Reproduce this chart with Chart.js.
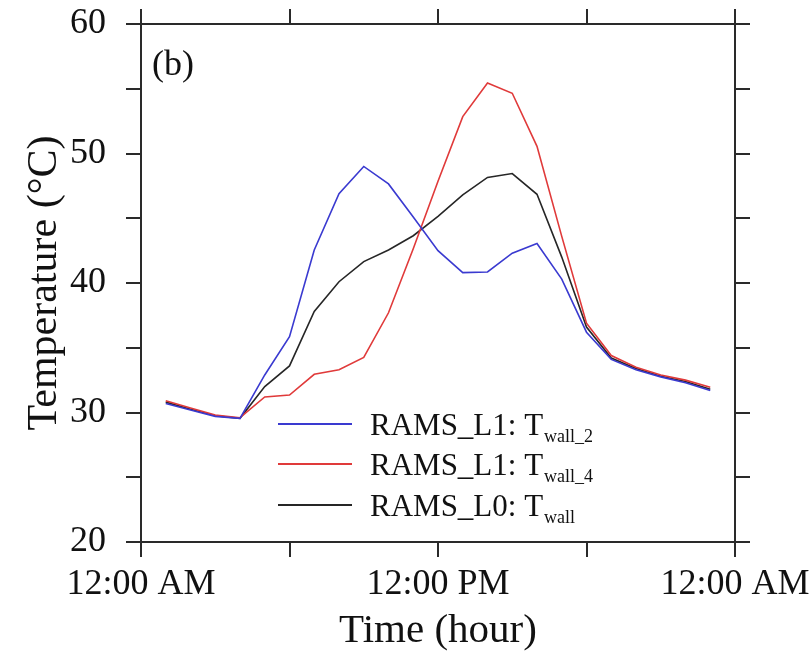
<!DOCTYPE html>
<html>
<head>
<meta charset="utf-8">
<script src="https://cdn.jsdelivr.net/npm/chart.js@4.4.0/dist/chart.umd.min.js"></script>
<style>
  html, body { margin: 0; padding: 0; background: #fff; }
  #wrap { width: 812px; height: 659px; position: relative; }
</style>
</head>
<body>
<div id="wrap"><canvas id="c" width="812" height="659"></canvas></div>
<script>
// ---- data ----
const hours = [1,2,3,4,5,6,7,8,9,10,11,12,13,14,15,16,17,18,19,20,21,22,23];
const seriesLabels = ['RAMS_L1: T|wall_2', 'RAMS_L1: T|wall_4', 'RAMS_L0: T|wall'];
const twall2 = [30.7,30.2,29.7,29.55,32.9,35.85,42.55,46.9,49.0,47.65,45.1,42.5,40.8,40.85,42.3,43.05,40.3,36.2,34.1,33.3,32.75,32.3,31.7];
const twall4 = [30.9,30.35,29.8,29.6,31.2,31.35,32.95,33.3,34.25,37.7,42.65,47.85,52.85,55.45,54.65,50.55,43.6,36.9,34.4,33.5,32.9,32.5,31.95];
const twall0 = [30.8,30.25,29.75,29.55,32.0,33.6,37.8,40.1,41.65,42.55,43.65,45.15,46.8,48.15,48.45,46.85,42.0,36.6,34.2,33.4,32.8,32.4,31.8];
const xTickHours = [0,6,12,18,24];
const xTickLabels = ['12:00 AM','','12:00 PM','','12:00 AM'];
const yTickValues = [20,25,30,35,40,45,50,55,60];
const yTickLabels = ['20','','30','','40','','50','','60'];
const colors = ['#3a3ad0', '#e03a3a', '#262626'];

const FONT = '"Liberation Serif", "DejaVu Serif", serif';
const AX = '#2a2a2a';

function pts(vals) { return hours.map((h, i) => ({ x: h, y: vals[i] })); }

const datasets = [twall2, twall4, twall0].map((v, i) => ({
  label: seriesLabels[i],
  data: pts(v),
  borderColor: colors[i],
  backgroundColor: colors[i],
  borderWidth: 1.6,
  pointRadius: 0,
  tension: 0,
  fill: false
}));

const fixW = w => (s) => { s.width = w; s.paddingTop = 0; s.paddingBottom = 0; };
const fixH = h => (s) => { s.height = h; s.paddingLeft = 0; s.paddingRight = 0; };

const gridCommon = {
  drawOnChartArea: false,
  drawTicks: true,
  tickLength: 15,
  lineWidth: 2,
  color: AX,
  tickColor: AX
};
const borderCommon = { display: true, color: AX, width: 2 };

const legendPlugin = {
  id: 'customLegend',
  afterDraw(chart) {
    const ctx = chart.ctx;
    const a = chart.chartArea;
    ctx.save();
    // panel label
    ctx.fillStyle = '#111';
    ctx.font = '36px ' + FONT;
    ctx.textBaseline = 'alphabetic';
    ctx.textAlign = 'left';
    ctx.fillText('(b)', a.left + 11, a.top + 51);
    // legend
    const rows = [a.top + 400, a.top + 440, a.top + 481];
    const x0 = a.left + 137, x1 = a.left + 211, tx = a.left + 229;
    chart.data.datasets.forEach((ds, i) => {
      const y = rows[i];
      ctx.strokeStyle = ds.borderColor;
      ctx.lineWidth = 1.8;
      ctx.beginPath();
      ctx.moveTo(x0, y); ctx.lineTo(x1, y); ctx.stroke();
      const parts = ds.label.split('|');
      ctx.fillStyle = '#111';
      ctx.font = '31px ' + FONT;
      ctx.fillText(parts[0], tx, y + 11);
      const w = ctx.measureText(parts[0]).width;
      ctx.font = '18px ' + FONT;
      ctx.fillText(parts[1], tx + w + 1, y + 18);
    });
    ctx.restore();
  }
};

new Chart(document.getElementById('c'), {
  type: 'line',
  data: { datasets },
  plugins: [legendPlugin],
  options: {
    responsive: false,
    animation: false,
    layout: { padding: 0 },
    plugins: { legend: { display: false }, tooltip: { enabled: false } },
    scales: {
      x: {
        type: 'linear', position: 'bottom', min: 0, max: 24,
        afterBuildTicks: s => { s.ticks = xTickHours.map(v => ({ value: v })); },
        ticks: {
          autoSkip: false, maxRotation: 0, padding: 6, color: '#111',
          font: { family: FONT, size: 36 },
          callback: (v) => { const i = xTickHours.indexOf(v); return i >= 0 ? xTickLabels[i] : ''; }
        },
        grid: gridCommon, border: borderCommon,
        title: { display: true, text: 'Time (hour)', color: '#111', font: { family: FONT, size: 41 }, padding: { top: 0, bottom: 3 } },
        afterFit: fixH(117)
      },
      x2: {
        type: 'linear', position: 'top', min: 0, max: 24,
        afterBuildTicks: s => { s.ticks = xTickHours.map(v => ({ value: v })); },
        ticks: { display: false },
        grid: gridCommon, border: borderCommon,
        afterFit: fixH(24)
      },
      y: {
        type: 'linear', position: 'left', min: 20, max: 60,
        afterBuildTicks: s => { s.ticks = yTickValues.map(v => ({ value: v })); },
        ticks: {
          autoSkip: false, padding: 20, color: '#111',
          font: { family: FONT, size: 36 },
          callback: (v) => { const i = yTickValues.indexOf(v); return i >= 0 ? yTickLabels[i] : ''; }
        },
        grid: gridCommon, border: borderCommon,
        title: { display: true, text: 'Temperature (°C)', color: '#111', font: { family: FONT, size: 42 }, padding: { top: 20, bottom: 0 } },
        afterFit: fixW(141)
      },
      y2: {
        type: 'linear', position: 'right', min: 20, max: 60,
        afterBuildTicks: s => { s.ticks = yTickValues.map(v => ({ value: v })); },
        ticks: { display: false },
        grid: gridCommon, border: borderCommon,
        afterFit: fixW(77)
      }
    }
  }
});
</script>
</body>
</html>
